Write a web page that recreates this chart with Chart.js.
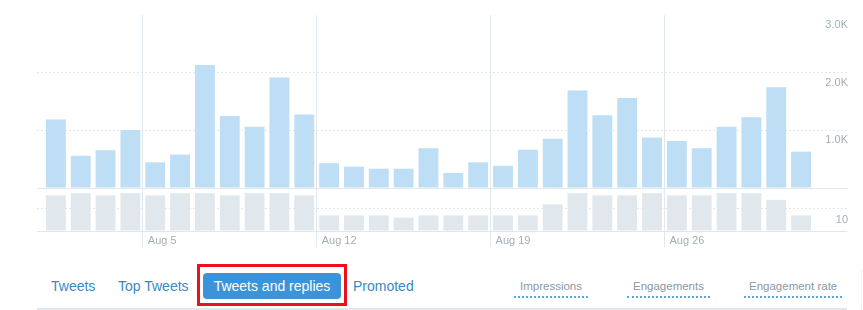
<!DOCTYPE html>
<html>
<head>
<meta charset="utf-8">
<script src="https://cdn.jsdelivr.net/npm/chart.js@4"></script>
<style>
  body { margin: 0; width: 863px; height: 310px; background: #fff; position: relative; overflow: hidden;
         font-family: "Liberation Sans", Arial, Helvetica, sans-serif; }
  #wrap { position: absolute; left: 37px; top: 0; width: 812px; height: 250px; }
  .tab { position: absolute; top: 276px; font-size: 14px; line-height: 20px; color: #3b88c3; white-space: nowrap; }
  .btn { position: absolute; left: 203px; top: 273px; width: 138px; height: 26px; border-radius: 4px;
         background: #3b94d9; color: #fff; font-size: 14px; line-height: 26px; text-align: center; white-space: nowrap; }
  .hl { position: absolute; left: 197px; top: 264px; width: 150px; height: 42px; box-sizing: border-box;
        border: 3px solid #e8121a; }
  .metric { position: absolute; top: 279px; font-size: 11.5px; line-height: 15px; color: #8899a6; white-space: nowrap;
            padding: 0 6px 2px; border-bottom: 2px dotted #55a7e6; }
  .rule { position: absolute; left: 37px; top: 308px; width: 810px; height: 2px; background: #e3e8ec; }
  .edge { position: absolute; left: 861px; top: 270px; width: 0; height: 40px; border-left: 1px dotted #e8ecef; }
</style>
</head>
<body>
<div id="wrap"><canvas id="chartImp"></canvas></div>

<div class="tab" style="left:51px">Tweets</div>
<div class="tab" style="left:118px">Top Tweets</div>
<div class="btn">Tweets and replies</div>
<div class="hl"></div>
<div class="tab" style="left:353px">Promoted</div>

<div class="metric" style="left:514px">Impressions</div>
<div class="metric" style="left:627px">Engagements</div>
<div class="metric" style="left:744px;padding:0 5px 2px">Engagement rate</div>
<div class="rule"></div>
<div class="edge"></div>

<script>
// ── data (August, one bar per day) ──
const days = [1, 2, 3, 4, 5, 6, 7, 8, 9, 10, 11, 12, 13, 14, 15, 16, 17, 18, 19, 20,
              21, 22, 23, 24, 25, 26, 27, 28, 29, 30, 31];
const impressions = [1190, 560, 655, 1005, 445, 580, 2135, 1250, 1060, 1915, 1275,
                     430, 370, 335, 335, 690, 260, 445, 385, 665, 855, 1690, 1260,
                     1560, 875, 815, 690, 1060, 1225, 1745, 630];
const engagements = [16, 17, 16, 17, 16, 17, 17, 16, 17, 17, 16,
                     7, 7, 7, 6, 7, 7, 7, 7, 7, 12, 17, 16,
                     16, 17, 16, 16, 17, 17, 14, 7];
const weekDays   = [5, 12, 19, 26];
const weekLabels = ['Aug 5', 'Aug 12', 'Aug 19', 'Aug 26'];
const impTicks = [0, 1000, 2000, 3000];
const engTicks = [0, 10];

const GRID = '#e1e8ed';
const TXT  = '#a4afb7';
const tickFont = { family: "'Liberation Sans', Arial, sans-serif", size: 11 };

function gridColor(max) {
  return ctx => ctx.tick && ctx.tick.value === max ? 'rgba(0,0,0,0)' : GRID;
}
function gridDash(ctx) {
  return ctx.tick && ctx.tick.value === 0 ? [] : [2, 2];
}

new Chart(document.getElementById('chartImp'), {
  type: 'bar',
  data: {
    datasets: [
      {
        label: 'Impressions',
        data: days.map((d, i) => ({ x: d, y: impressions[i] })),
        yAxisID: 'y',
        backgroundColor: '#bddef4',
        grouped: false,
        barPercentage: 0.8,
        categoryPercentage: 1,
      },
      {
        label: 'Engagements',
        data: days.map((d, i) => ({ x: d, y: engagements[i] })),
        yAxisID: 'y2',
        backgroundColor: '#e1e8ed',
        grouped: false,
        barPercentage: 0.8,
        categoryPercentage: 1,
      },
    ],
  },
  options: {
    responsive: true,
    maintainAspectRatio: false,
    animation: false,
    layout: { padding: { top: 15, bottom: 2.6, left: 0, right: 0 } },
    plugins: { legend: { display: false }, tooltip: { enabled: false } },
    scales: {
      x: {
        type: 'linear',
        min: 0.24,
        max: 32.85,
        offset: false,
        afterBuildTicks: s => { s.ticks = weekDays.map(d => ({ value: d - 0.5 })); },
        grid: { color: GRID, offset: false, drawTicks: true, tickLength: 16 },
        border: { display: false },
        ticks: {
          align: 'start',
          crossAlign: 'center',
          labelOffset: 5,
          padding: -6.4,
          maxRotation: 0,
          autoSkip: false,
          color: TXT,
          font: tickFont,
          callback: (v, i) => weekLabels[i],
        },
      },
      y: {
        position: 'right',
        stack: 'metrics',
        stackWeight: 173,
        min: 0,
        max: 3000,
        afterBuildTicks: s => { s.ticks = impTicks.map(v => ({ value: v })); },
        grid: { color: gridColor(3000), drawTicks: false },
        border: { display: false, dash: gridDash },
        ticks: {
          mirror: true,
          padding: 1,
          labelOffset: 10,
          color: TXT,
          font: tickFont,
          callback: v => v === 0 ? '' : (v / 1000).toFixed(1) + 'K',
        },
      },
      y2: {
        position: 'right',
        stack: 'metrics',
        stackWeight: 43,
        min: 0,
        max: 19.3,
        afterBuildTicks: s => { s.ticks = engTicks.map(v => ({ value: v })); },
        grid: { color: GRID, drawTicks: false },
        border: { display: false, dash: gridDash },
        ticks: {
          mirror: true,
          padding: 1,
          labelOffset: 11,
          color: TXT,
          font: tickFont,
          callback: v => v === 0 ? '' : String(v),
        },
      },
    },
  },
});
</script>
</body>
</html>
